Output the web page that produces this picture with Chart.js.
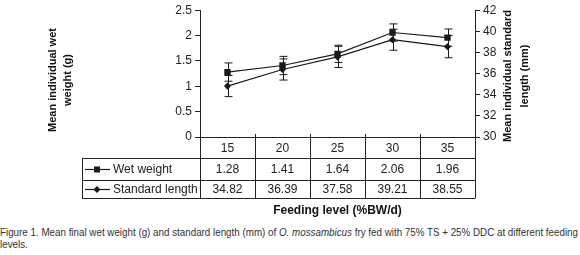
<!DOCTYPE html>
<html>
<head>
<meta charset="utf-8">
<script src="https://cdn.jsdelivr.net/npm/chart.js@4"></script>
<style>
  body { margin: 0; background: #fff; width: 580px; height: 255px; overflow: hidden; position: relative; }
  #wrap { position: absolute; left: 0; top: 0; width: 580px; height: 222px; }
  #caption {
    position: absolute; left: 0; top: 226px;
    font-family: 'Liberation Sans', Arial, sans-serif;
    font-size: 11px; line-height: 12px; color: #333; white-space: nowrap;
    transform-origin: 0 0;
  }
</style>
</head>
<body>
<div id="wrap"><canvas id="chart" width="580" height="222"></canvas></div>
<div id="caption"><span id="cap1">Figure 1. Mean final wet weight (g) and standard length (mm) of <i>O. mossambicus</i> fry fed with 75% TS + 25% DDC at different feeding</span><br>levels.</div>
<script>
// data
const feedingLevels = ['15', '20', '25', '30', '35'];
const wetWeight = [1.28, 1.41, 1.64, 2.06, 1.96];
const wetWeightErr = [0.18, 0.18, 0.17, 0.17, 0.17];
const standardLength = [34.82, 36.39, 37.58, 39.21, 38.55];
const standardLengthErr = [1.0, 1.0, 1.0, 1.0, 1.05];
const seriesNames = ['Wet weight', 'Standard length'];
const leftTicks = [0, 0.5, 1, 1.5, 2, 2.5];
const rightTicks = [30, 32, 34, 36, 38, 40, 42];

const ink = '#1a1a1a';
const font = "'Liberation Sans', Arial, sans-serif";

// squeeze the caption like the narrow face in the original
const cap = document.getElementById('caption');
const w = document.getElementById('cap1').getBoundingClientRect().width;
cap.style.transform = 'scaleX(' + (578 / w) + ')';

// error bars + data table under the plot
const figurePlugin = {
  id: 'figure',
  beforeDatasetsDraw(chart) {
    const ctx = chart.ctx;
    const x = chart.scales.x;
    ctx.save();
    ctx.strokeStyle = ink;
    ctx.lineWidth = 1;
    const bars = [[wetWeight, wetWeightErr, chart.scales.y], [standardLength, standardLengthErr, chart.scales.y1]];
    bars.forEach(([vals, errs, sc]) => {
      vals.forEach((v, i) => {
        const px = Math.round(x.getPixelForValue(i)) + 0.5;
        const top = sc.getPixelForValue(v + errs[i]);
        const bot = sc.getPixelForValue(v - errs[i]);
        ctx.beginPath();
        ctx.moveTo(px, top); ctx.lineTo(px, bot);
        ctx.moveTo(px - 4, top); ctx.lineTo(px + 4, top);
        ctx.moveTo(px - 4, bot); ctx.lineTo(px + 4, bot);
        ctx.stroke();
      });
    });
    ctx.restore();
  },
  afterDraw(chart) {
    const ctx = chart.ctx;
    const area = chart.chartArea;
    const n = feedingLevels.length;
    const colW = (area.right - area.left) / n;
    const tableLeft = 82;
    const rows = [area.bottom, 158, 180, 198];

    ctx.save();
    ctx.strokeStyle = '#222';
    ctx.lineWidth = 1;
    ctx.beginPath();
    // horizontal rules
    for (let r = 1; r < rows.length; r++) {
      ctx.moveTo(tableLeft, rows[r] + 0.5);
      ctx.lineTo(area.right, rows[r] + 0.5);
    }
    // vertical rules
    for (let i = 0; i <= n; i++) {
      const vx = Math.round(area.left + i * colW) + 0.5;
      ctx.moveTo(vx, area.bottom - (i > 0 && i < n ? 3 : 0));
      ctx.lineTo(vx, rows[3] + 0.5);
    }
    ctx.moveTo(tableLeft + 0.5, rows[1]);
    ctx.lineTo(tableLeft + 0.5, rows[3] + 0.5);
    ctx.stroke();

    // cell values
    ctx.fillStyle = '#222';
    ctx.font = '12px ' + font;
    ctx.textAlign = 'center';
    ctx.textBaseline = 'middle';
    const rowVals = [wetWeight, standardLength];
    rowVals.forEach((vals, r) => {
      const cy = (rows[r + 1] + rows[r + 2]) / 2 + 1;
      vals.forEach((v, i) => {
        ctx.fillText(v.toFixed(2), area.left + (i + 0.5) * colW, cy);
      });
    });

    // legend keys in the row headers
    rowVals.forEach((vals, r) => {
      const cy = Math.round((rows[r + 1] + rows[r + 2]) / 2) + 0.5;
      ctx.strokeStyle = ink;
      ctx.lineWidth = 1.2;
      ctx.beginPath();
      ctx.moveTo(85, cy); ctx.lineTo(110, cy);
      ctx.stroke();
      ctx.fillStyle = ink;
      ctx.beginPath();
      if (r === 0) {
        ctx.rect(94, cy - 3, 6, 6);
      } else {
        ctx.moveTo(97, cy - 3.5); ctx.lineTo(100.5, cy); ctx.lineTo(97, cy + 3.5); ctx.lineTo(93.5, cy);
        ctx.closePath();
      }
      ctx.fill();
      ctx.fillStyle = '#222';
      ctx.textAlign = 'left';
      ctx.fillText(seriesNames[r], 113, cy + 0.5);
    });

    // x axis title
    ctx.font = 'bold 12px ' + font;
    ctx.textAlign = 'center';
    ctx.fillStyle = '#111';
    ctx.fillText('Feeding level (%BW/d)', (area.left + area.right) / 2, 211);

    // y axis titles, both reading bottom to top
    ctx.font = 'bold 11px ' + font;
    const vTitle = (lines, xs, cy) => {
      lines.forEach((t, k) => {
        ctx.save();
        ctx.translate(xs[k], cy);
        ctx.rotate(-Math.PI / 2);
        ctx.fillText(t, 0, 0);
        ctx.restore();
      });
    };
    vTitle(['Mean individual wet', 'weight (g)'], [53, 68], 80);
    vTitle(['Mean individual standard', 'length (mm)'], [508, 525], 76);
    ctx.restore();
  }
};

new Chart(document.getElementById('chart'), {
  type: 'line',
  data: {
    labels: feedingLevels,
    datasets: [
      {
        label: seriesNames[0], data: wetWeight, yAxisID: 'y',
        borderColor: ink, backgroundColor: ink, borderWidth: 1.2,
        pointStyle: 'rect', pointRadius: 4.5, pointBorderWidth: 0
      },
      {
        label: seriesNames[1], data: standardLength, yAxisID: 'y1',
        borderColor: ink, backgroundColor: ink, borderWidth: 1.2,
        pointStyle: 'rectRot', pointRadius: 3.6, pointBorderWidth: 0
      }
    ]
  },
  options: {
    responsive: false,
    animation: false,
    devicePixelRatio: 1,
    layout: { padding: { top: 5, left: 0, right: 0, bottom: 0 } },
    plugins: { legend: { display: false }, tooltip: { enabled: false } },
    scales: {
      x: {
        offset: true,
        grid: { display: false, drawTicks: false, tickLength: 0 },
        border: { display: true, color: '#222' },
        ticks: { color: '#222', font: { family: font, size: 12 }, padding: 4 },
        afterFit(s) { s.height = 222 - 137; }
      },
      y: {
        position: 'left', min: 0, max: 2.5,
        afterBuildTicks(s) { s.ticks = leftTicks.map(v => ({ value: v })); },
        grid: { drawOnChartArea: false, tickLength: 5, color: '#222' },
        border: { color: '#222' },
        ticks: { color: '#222', font: { family: font, size: 12 }, padding: 3, callback: v => String(v) },
        afterFit(s) { s.width = 200; }
      },
      y1: {
        position: 'right', min: 30, max: 42,
        afterBuildTicks(s) { s.ticks = rightTicks.map(v => ({ value: v })); },
        grid: { drawOnChartArea: false, tickLength: 5, color: '#222' },
        border: { color: '#222' },
        ticks: { color: '#222', font: { family: font, size: 12 }, padding: 3, callback: v => String(v) },
        afterFit(s) { s.width = 105; }
      }
    }
  },
  plugins: [figurePlugin]
});
</script>
</body>
</html>
